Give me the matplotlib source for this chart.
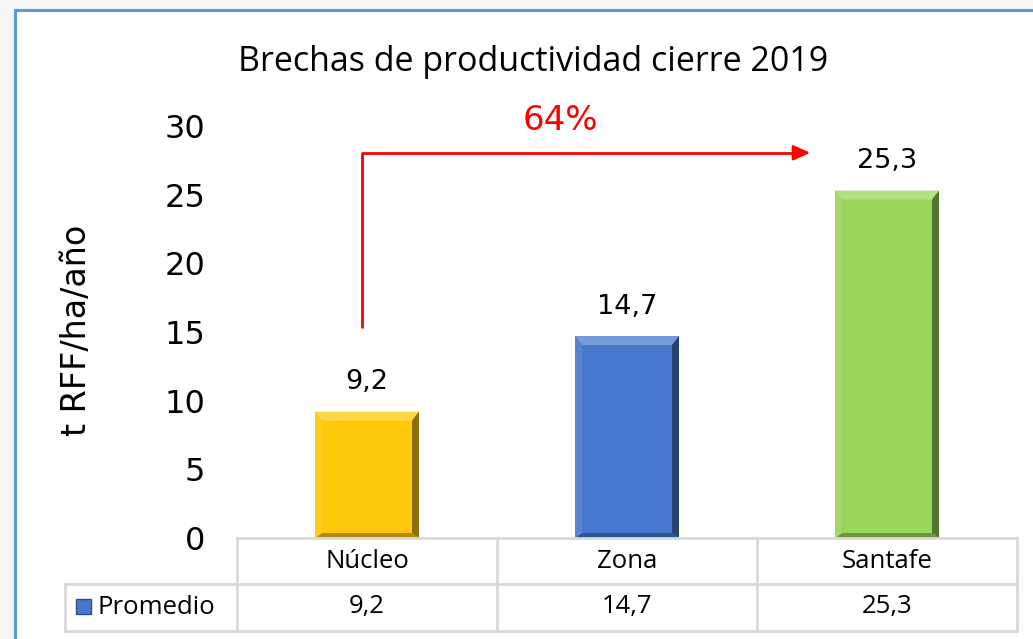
import numpy as np
import matplotlib.pyplot as plt
from matplotlib.patches import Rectangle, Polygon
from matplotlib.lines import Line2D
from matplotlib.colors import to_rgb

categories = ['Núcleo', 'Zona', 'Santafe']
values = [9.2, 14.7, 25.3]
labels = ['9,2', '14,7', '25,3']
series_name = 'Promedio'
gap_label = '64%'
title = 'Brechas de productividad cierre 2019'
ylabel = 't RFF/ha/año'
yticks = [0, 5, 10, 15, 20, 25, 30]

colors = ['#FFC80A', '#4878CE', '#9AD65B']

W, H = 1033, 639
fig = plt.figure(figsize=(W / 100, H / 100), dpi=100)
fig.patch.set_facecolor('#f7f7f7')


def fx(x):
    return x / W


def fy(y):
    return 1 - y / H


# white chart panel with blue frame
fig.add_artist(Rectangle((fx(15), 0), 1, fy(10), transform=fig.transFigure,
                         facecolor='white', edgecolor='none', zorder=0))
fig.add_artist(Line2D([fx(15), fx(15)], [0, fy(10)], transform=fig.transFigure,
                      color='#5b9bd5', lw=2.2))
fig.add_artist(Line2D([fx(15), 1], [fy(10), fy(10)], transform=fig.transFigure,
                      color='#5b9bd5', lw=2.2))

ax = fig.add_axes([fx(237), fy(538), (1017 - 237) / W, (538 - 126) / H])
ax.set_facecolor('none')
x = np.arange(len(categories))
bars = ax.bar(x, values, width=0.4, color=colors, zorder=2)
ax.set_xlim(-0.5, 2.5)
ax.set_ylim(0, 30)
ax.set_yticks(yticks)
ax.set_yticklabels([str(v) for v in yticks], fontsize=23, family='DejaVu Sans')
ax.tick_params(axis='y', length=0, pad=23)
ax.set_xticks([])
for s in ax.spines.values():
    s.set_visible(False)
ax.set_ylabel(ylabel, fontsize=24, family='DejaVu Sans')
ax.yaxis.set_label_coords(-0.185, 0.505)


def shade(c, f):
    c = np.array(to_rgb(c))
    if f > 0:
        return tuple(c + (1 - c) * f)
    return tuple(c * (1 + f))


# bevel effect on each bar
inv = ax.transData.inverted()
for b, c in zip(bars, colors):
    x0, y0 = b.get_x(), b.get_y()
    x1, y1 = x0 + b.get_width(), y0 + b.get_height()
    (px0, py0) = ax.transData.transform((x0, y0))
    (px1, py1) = ax.transData.transform((x1, y1))
    ix0, iy0, ix1, iy1 = px0 + 7, py0 + 5, px1 - 7, py1 - 9
    faces = [
        ([(px0, py1), (px1, py1), (ix1, iy1), (ix0, iy1)], shade(c, 0.25)),
        ([(px1, py1), (px1, py0), (ix1, iy0), (ix1, iy1)], shade(c, -0.45)),
        ([(px0, py0), (px1, py0), (ix1, iy0), (ix0, iy0)], shade(c, -0.3)),
        ([(px0, py0), (px0, py1), (ix0, iy1), (ix0, iy0)], shade(c, 0.08)),
    ]
    for pts, fc in faces:
        dpts = inv.transform(pts)
        ax.add_patch(Polygon(dpts, closed=True, facecolor=fc, edgecolor='none', zorder=3))

for xi, v, lab in zip(x, values, labels):
    ax.annotate(lab, (xi, v), xytext=(0, 16), textcoords='offset points',
                ha='center', va='baseline', fontsize=19.5, family='DejaVu Sans')

# red gap arrow from first to last bar
ax.plot([-0.02, -0.02, 1.65], [15.3, 28.05, 28.05], color='red', lw=2, zorder=4,
        solid_capstyle='butt', clip_on=False)
ax.annotate('', xy=(1.705, 28.05), xytext=(1.64, 28.05),
            arrowprops=dict(arrowstyle='-|>,head_length=1.0,head_width=0.45',
                            color='red', lw=2, shrinkA=0, shrinkB=0),
            annotation_clip=False)
ax.text(0.742, 30.4, gap_label, color='red', fontsize=24.5, family='DejaVu Sans',
        ha='center', va='center', clip_on=False)

fig.text(fx(533), fy(62), title, ha='center', va='center', fontsize=24.5, family='Open Sans')

# data table below the axis
grid_c = '#d9d9d9'
edges = [237, 497, 757, 1017]
for ex in edges:
    fig.add_artist(Line2D([fx(ex), fx(ex)], [fy(538), fy(631)], transform=fig.transFigure,
                          color=grid_c, lw=2))
fig.add_artist(Line2D([fx(65), fx(65)], [fy(584), fy(631)], transform=fig.transFigure,
                      color=grid_c, lw=2))
fig.add_artist(Line2D([fx(237), fx(1017)], [fy(538), fy(538)], transform=fig.transFigure,
                      color=grid_c, lw=2))
for yy in [584, 631]:
    fig.add_artist(Line2D([fx(65), fx(1017)], [fy(yy), fy(yy)], transform=fig.transFigure,
                          color=grid_c, lw=2))

for i, (cat, lab) in enumerate(zip(categories, labels)):
    cx = fx((edges[i] + edges[i + 1]) / 2)
    fig.text(cx, fy(561), cat, ha='center', va='center', fontsize=18.5, family='Open Sans')
    fig.text(cx, fy(607), lab, ha='center', va='center', fontsize=18.5, family='Open Sans')

fig.add_artist(Rectangle((fx(76), fy(614)), 15 / W, 15 / H, transform=fig.transFigure,
                         facecolor=colors[1], edgecolor='#2f4f8a', lw=1))
fig.text(fx(98), fy(607), series_name, ha='left', va='center', fontsize=18.5, family='Open Sans')

fig.savefig('out.png', dpi=100, facecolor=fig.get_facecolor())
